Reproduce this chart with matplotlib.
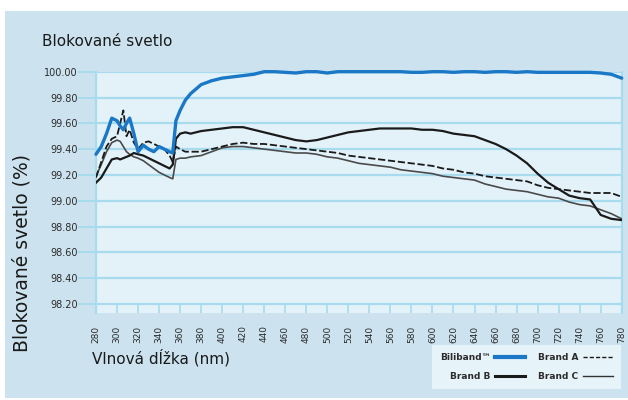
import matplotlib
matplotlib.use("Agg")
import matplotlib.pyplot as plt
from matplotlib.patches import Rectangle
from matplotlib.lines import Line2D

# DATA
nm = [280, 285, 290, 295, 300, 303, 306, 309, 312, 316, 320, 325, 330, 335, 340,
      345, 350, 353, 356, 360, 365, 370, 380, 390, 400, 410, 420, 430, 440, 450,
      460, 470, 480, 490, 500, 510, 520, 530, 540, 550, 560, 570, 580, 590, 600,
      610, 620, 630, 640, 650, 660, 670, 680, 690, 700, 710, 720, 730, 740, 750,
      760, 770, 780]

biliband = [99.36, 99.42, 99.52, 99.64, 99.62, 99.58, 99.55, 99.60, 99.64, 99.52, 99.38,
            99.43, 99.40, 99.38, 99.42, 99.40, 99.38, 99.37, 99.62, 99.70, 99.78, 99.83,
            99.90, 99.93, 99.95, 99.96, 99.97, 99.98, 100.00, 100.00, 99.995, 99.99,
            100.00, 100.00, 99.99, 100.00, 100.00, 100.00, 100.00, 100.00, 100.00,
            100.00, 99.995, 99.995, 100.00, 100.00, 99.995, 100.00, 100.00, 99.995,
            100.00, 100.00, 99.995, 100.00, 99.995, 99.995, 99.995, 99.995, 99.995,
            99.995, 99.99, 99.98, 99.95]

brand_a = [99.18, 99.30, 99.42, 99.48, 99.50, 99.60, 99.70, 99.50, 99.55, 99.45, 99.40,
           99.45, 99.46, 99.44, 99.42, 99.40, 99.35, 99.30, 99.42, 99.40, 99.38, 99.38,
           99.38, 99.40, 99.42, 99.44, 99.45, 99.44, 99.44, 99.43, 99.42, 99.41, 99.40,
           99.39, 99.38, 99.37, 99.35, 99.34, 99.33, 99.32, 99.31, 99.30, 99.29, 99.28,
           99.27, 99.25, 99.24, 99.22, 99.21, 99.19, 99.18, 99.17, 99.16, 99.15, 99.12,
           99.10, 99.09, 99.08, 99.07, 99.06, 99.06, 99.06, 99.03]

brand_b = [99.14, 99.18, 99.25, 99.32, 99.33, 99.32, 99.33, 99.34, 99.35, 99.37, 99.36,
           99.35, 99.33, 99.31, 99.29, 99.27, 99.25, 99.28, 99.48, 99.52, 99.53, 99.52,
           99.54, 99.55, 99.56, 99.57, 99.57, 99.55, 99.53, 99.51, 99.49, 99.47, 99.46,
           99.47, 99.49, 99.51, 99.53, 99.54, 99.55, 99.56, 99.56, 99.56, 99.56, 99.55,
           99.55, 99.54, 99.52, 99.51, 99.50, 99.47, 99.44, 99.40, 99.35, 99.29, 99.21,
           99.14, 99.09, 99.04, 99.02, 99.01, 98.89, 98.86, 98.85]

brand_c = [99.19, 99.28, 99.38, 99.45, 99.47, 99.46, 99.42, 99.38, 99.36, 99.34, 99.33,
           99.31, 99.28, 99.25, 99.22, 99.20, 99.18, 99.17, 99.32, 99.33, 99.33, 99.34,
           99.35, 99.38, 99.41, 99.42, 99.42, 99.41, 99.40, 99.39, 99.38, 99.37, 99.37,
           99.36, 99.34, 99.33, 99.31, 99.29, 99.28, 99.27, 99.26, 99.24, 99.23, 99.22,
           99.21, 99.19, 99.18, 99.17, 99.16, 99.13, 99.11, 99.09, 99.08, 99.07, 99.05,
           99.03, 99.02, 98.99, 98.97, 98.96, 98.93, 98.90, 98.86]

x_ticks = list(range(280, 781, 20))
y_ticks = [98.20, 98.40, 98.60, 98.80, 99.00, 99.20, 99.40, 99.60, 99.80, 100.00]

# COLOURS
OUTER = "#cce3ef"
INNER = "#e3f2f9"
GRID = "#a8dbee"
BLUE = "#1a78c6"
TXT = "#2b2b2b"

FONT = ["DejaVu Sans"]

fig = plt.figure(figsize=(6.28, 4.0), dpi=100)
fig.patch.set_facecolor("white")
fig.patches.append(Rectangle((5 / 628, 0.005), 1, 1 - 11 / 400 - 0.005,
                             transform=fig.transFigure, facecolor=OUTER,
                             edgecolor="none", zorder=-10))

ax = fig.add_axes([96 / 628, 1 - 313 / 400, (621.7 - 96) / 628, (313 - 71.7) / 400])
ax.set_facecolor(INNER)
ax.set_xlim(280, 780)
ax.set_ylim(98.13, 100.0)

for y in y_ticks:
    ax.axhline(y, color=GRID, lw=1.6, zorder=1)

ax.plot(nm, brand_c, color="#4a4a4a", lw=1.2, zorder=3)
ax.plot(nm, brand_a, color="#1a1a1a", lw=1.3, ls=(0, (4, 1.5)), zorder=3)
ax.plot(nm, brand_b, color="#1a1a1a", lw=1.6, zorder=4)
ax.plot(nm, biliband, color=BLUE, lw=2.4, zorder=5, clip_on=False,
        solid_capstyle="round")

for s in ["top", "bottom"]:
    ax.spines[s].set_visible(False)
for s in ["left", "right"]:
    ax.spines[s].set_color(GRID)
    ax.spines[s].set_linewidth(1.6)

ax.set_yticks(y_ticks)
ax.set_yticklabels([f"{v:.2f}" for v in y_ticks])
ax.set_xticks(x_ticks)
ax.set_xticklabels([str(v) for v in x_ticks], rotation=90)
ax.tick_params(axis="y", direction="out", length=13, width=1.4, color=GRID,
               labelsize=7, labelcolor=TXT, pad=0)
ax.tick_params(axis="x", direction="in", length=6, width=1.2, color=GRID,
               labelsize=6.5, labelcolor=TXT, pad=9)
for lab in ax.get_xticklabels() + ax.get_yticklabels():
    lab.set_family(FONT)

fig.text(42 / 628, 1 - 42 / 400, "Blokované svetlo", fontsize=11, color="#1a1a1a",
         family=FONT, va="center", ha="left")
fig.text(92 / 628, 1 - 358 / 400, "Vlnová dĺžka (nm)", fontsize=11, color="#1a1a1a",
         family=FONT, va="center", ha="left")
fig.text(22 / 628, 1 - 253 / 400, "Blokované svetlo (%)", fontsize=13.5, color="#1a1a1a",
         family=FONT, va="center", ha="center", rotation=90)

# legend (text before line, two columns)
handles = [Line2D([], [], color=BLUE, lw=3),
           Line2D([], [], color="#1a1a1a", lw=2.2),
           Line2D([], [], color="#1a1a1a", lw=1.0, ls=(0, (3, 1.5))),
           Line2D([], [], color="#333333", lw=1.0)]
labels = ["Biliband™", "Brand B", "Brand A", "Brand C"]
leg = fig.legend(handles, labels, ncol=2, markerfirst=False,
                 loc="upper left", bbox_to_anchor=(432 / 628, 1 - 345 / 400),
                 bbox_transform=fig.transFigure, frameon=True, fancybox=False,
                 facecolor="#e6f3f9", edgecolor="none", framealpha=1,
                 borderaxespad=0, borderpad=0.9, handlelength=3.3,
                 handletextpad=0.5, columnspacing=1.4, labelspacing=1.1,
                 prop={"family": FONT, "size": 6.5, "weight": "bold"})
for t in leg.get_texts():
    t.set_color(TXT)

fig.savefig("out.png", dpi=100, facecolor=fig.get_facecolor())
